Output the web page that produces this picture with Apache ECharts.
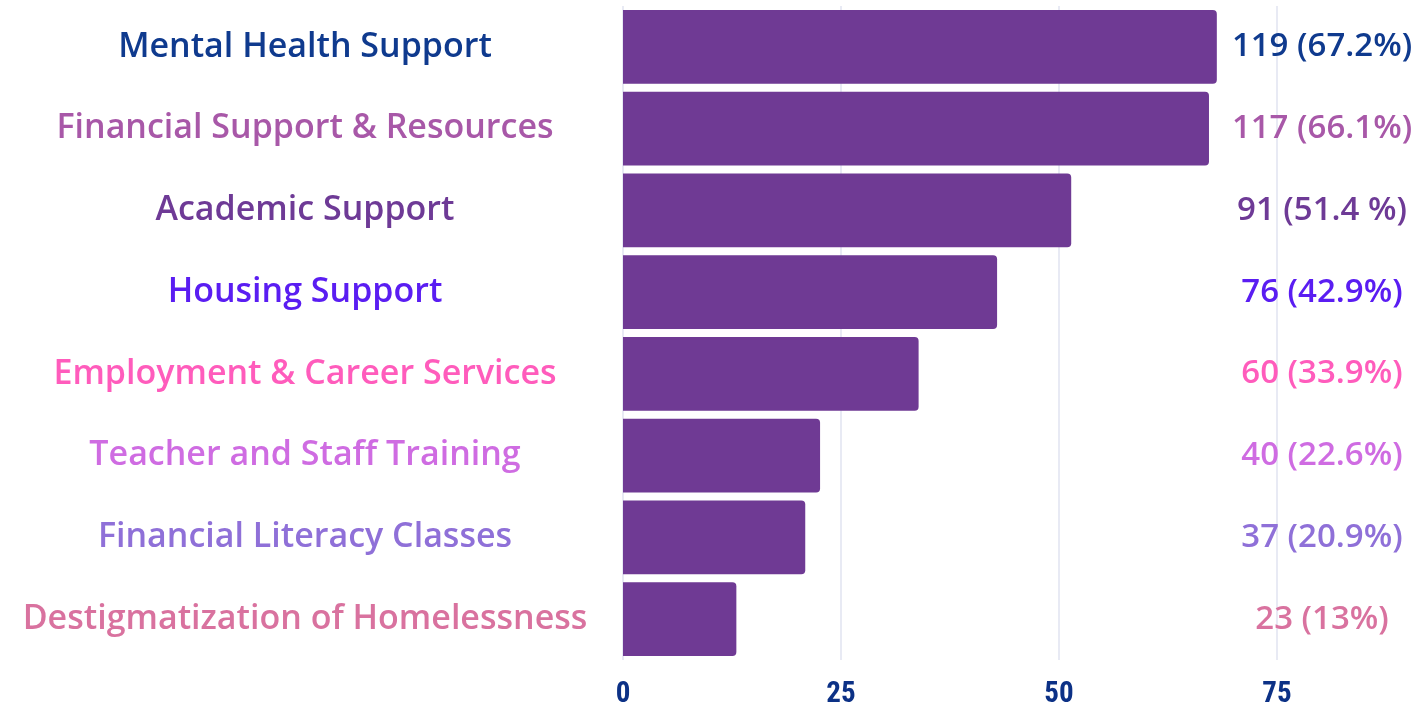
<!DOCTYPE html>
<html>
<head>
<meta charset="utf-8">
<script src="https://cdn.jsdelivr.net/npm/echarts@6/dist/echarts.min.js"></script>
<style>
html,body{margin:0;padding:0;background:#fff;}
#chart{width:1420px;height:709px;}
</style>
</head>
<body>
<div id="chart"></div>
<script>
const categories = [
  'Mental Health Support',
  'Financial Support & Resources',
  'Academic Support',
  'Housing Support',
  'Employment & Career Services',
  'Teacher and Staff Training',
  'Financial Literacy Classes',
  'Destigmatization of Homelessness'
];
const barValues = [68.1, 67.2, 51.4, 42.9, 33.9, 22.6, 20.9, 13];
const counts = [119, 117, 91, 76, 60, 40, 37, 23];
const pctTexts = ['67.2%', '66.1%', '51.4 %', '42.9%', '33.9%', '22.6%', '20.9%', '13%'];
const labelColors = ['#0f3a8e', '#a858a8', '#6e3a96', '#5a1df2', '#ff5cbc', '#cf6ce2', '#8f70d8', '#d9729f'];
const xTicks = [0, 25, 50, 75];

const rightLabels = counts.map((c, i) => c + ' (' + pctTexts[i] + ')');

const chart = echarts.init(document.getElementById('chart'), null, {renderer: 'canvas'});
chart.setOption({
  animation: false,
  grid: {left: 623, right: 143, top: 6, bottom: 44, containLabel: false},
  xAxis: {
    type: 'value',
    min: xTicks[0],
    max: xTicks[xTicks.length - 1],
    interval: xTicks[1] - xTicks[0],
    axisLine: {show: false},
    axisTick: {show: false},
    splitLine: {show: true, lineStyle: {color: '#e0e3f0', width: 1.5}},
    axisLabel: {
      color: '#0c3186', fontSize: 29, fontWeight: 'bold',
      fontFamily: '"Liberation Sans Narrow", "Roboto Condensed", Roboto',
      margin: 20
    }
  },
  yAxis: [
    {
      type: 'category',
      data: categories,
      inverse: true,
      axisLine: {show: false},
      axisTick: {show: false},
      axisLabel: {
        align: 'center',
        margin: 318,
        fontSize: 34,
        fontWeight: 600,
        fontFamily: '"Open Sans"',
        color: (v, i) => labelColors[i]
      }
    },
    {
      type: 'category',
      data: rightLabels,
      inverse: true,
      position: 'right',
      axisLine: {show: false},
      axisTick: {show: false},
      axisLabel: {
        align: 'center',
        margin: 45,
        fontSize: 33,
        fontWeight: 600,
        fontFamily: '"Open Sans"',
        color: (v, i) => labelColors[i]
      }
    }
  ],
  series: [{
    type: 'bar',
    data: barValues,
    yAxisIndex: 0,
    barCategoryGap: '10%',
    itemStyle: {color: '#6f3a94', borderRadius: [0, 4, 4, 0]}
  }]
});
</script>
</body>
</html>
